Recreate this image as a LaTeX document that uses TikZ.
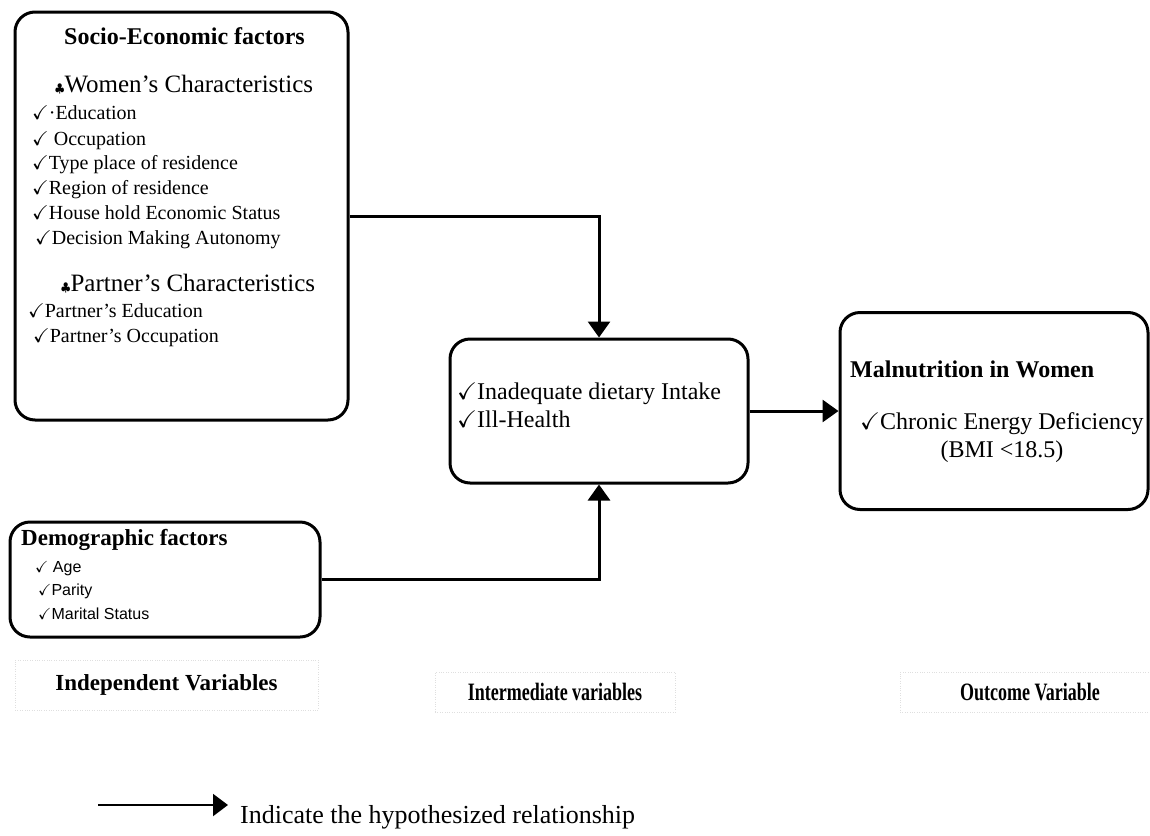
\documentclass[tikz,border=0pt]{standalone}
\usepackage{fontspec}
\setmainfont{Liberation Serif}
\newfontfamily\arialfont{Liberation Sans}
\newfontfamily\narrowfont[FakeStretch=0.72]{Liberation Serif}
\usepackage{amssymb}
\usetikzlibrary{positioning, arrows.meta}
\newcommand{\tick}{$\checkmark$}
\newcommand{\club}{{\fontsize{12}{12}\selectfont$\clubsuit$}}
\tikzset{
    x=1pt, y=-1pt, % reference pixels, y pointing down
    factor/.style={draw, line width=3pt, rounded corners=20pt}, % the four boxes
    hypo/.style={line width=3pt, -{Triangle[length=16pt, width=22pt]}}, % hypothesized relationship
    item/.style={anchor=west, inner sep=0pt, text height=0.7em, text depth=0.2em,
        font=\fontsize{20}{24}\selectfont},
    bigitem/.style={item, font=\fontsize{24}{28}\selectfont},
    demoitem/.style={item, font=\arialfont\fontsize{16}{19}\selectfont},
    head/.style={item, font=\bfseries\fontsize{24}{28}\selectfont},
    varlabel/.style={draw=gray!25, dotted, inner sep=0pt}, % faint text frames
}

\begin{document}
\begin{tikzpicture}
    \useasboundingbox (0,0) rectangle (1150,835);

    % boxes
    \node[factor, minimum width=333pt, minimum height=408pt] (socio) at (181.5,216) {};
    \node[factor, minimum width=310pt, minimum height=115pt] (demo) at (165,579.5) {};
    \node[factor, minimum width=298pt, minimum height=144pt] (mid) at (599,411) {};
    \node[factor, minimum width=308pt, minimum height=197pt] (outcome) at (994,411) {};

    % socio-economic factors
    \node[head, anchor=center] (sociohead) at (184.5,42) {Socio-Economic factors};
    \node[bigitem, font=\fontsize{25}{29}\selectfont] (women) at (55,90) {\club Women's Characteristics};
    \node[item] (w1) at (32,117) {\tick·Education};
    \node[item] (w2) at (32,143) {\tick\ Occupation};
    \node[item] (w3) at (32,167) {\tick Type place of residence};
    \node[item] (w4) at (32,192) {\tick Region of residence};
    \node[item] (w5) at (32,217) {\tick House hold Economic Status};
    \node[item] (w6) at (35,242) {\tick Decision Making Autonomy};
    \node[bigitem, font=\fontsize{25}{29}\selectfont] (partner) at (61,289) {\club Partner's Characteristics};
    \node[item] (p1) at (28,315) {\tick Partner's Education};
    \node[item] (p2) at (33,340) {\tick Partner's Occupation};

    % demographic factors
    \node[head, font=\bfseries\fontsize{23}{27}\selectfont] (demohead) at (21,543) {Demographic factors};
    \node[demoitem] (d1) at (35,570) {\tick\ Age};
    \node[demoitem] (d2) at (38,593) {\tick Parity};
    \node[demoitem] (d3) at (38,617) {\tick Marital Status};

    % intermediate variables
    \node[bigitem] (m1) at (457,397) {\tick Inadequate dietary Intake};
    \node[bigitem] (m2) at (457,425) {\tick Ill-Health};

    % outcome
    \node[head] (outhead) at (850,375) {Malnutrition in Women};
    \node[bigitem] (o1) at (860,427) {\tick Chronic Energy Deficiency};
    \node[bigitem, anchor=center] (o2) at (1002,455) {(BMI <18.5)};

    % column labels
    \node[varlabel, minimum width=303pt, minimum height=50pt,
        font=\bfseries\fontsize{23}{27}\selectfont] (indep) at (166.5,685) {Independent Variables};
    \node[varlabel, minimum width=240pt, minimum height=40pt,
        font=\narrowfont\bfseries\fontsize{25}{29}\selectfont] (inter) at (555,692) {Intermediate variables};
    \node[varlabel, minimum width=260pt, minimum height=40pt,
        font=\narrowfont\bfseries\fontsize{25}{29}\selectfont] (outvar) at (1030,692) {Outcome Variable};

    % relationships
    \draw[hypo] (socio.east) -| (mid.north);
    \draw[hypo] (demo.east) -| (mid.south);
    \draw[hypo] (mid.east) -- (outcome.west);

    % legend
    \coordinate (legstart) at (98,805);
    \coordinate (legend) at (228,805);
    \draw[line width=2pt, -{Triangle[length=15pt, width=22pt]}] (legstart) -- (legend);
    \node[anchor=base west, inner sep=0pt, font=\fontsize{26}{30}\selectfont] (legtext)
        at (240,823) {Indicate the hypothesized relationship};
\end{tikzpicture}
\end{document}
